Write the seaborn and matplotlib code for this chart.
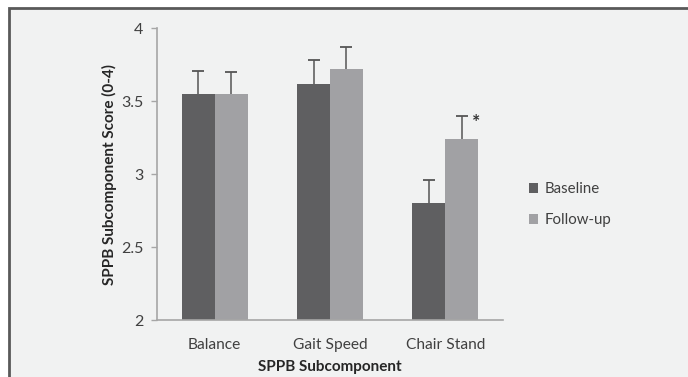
import matplotlib
matplotlib.use("Agg")
import matplotlib.pyplot as plt
from matplotlib.patches import Rectangle
import numpy as np
import pandas as pd
import seaborn as sns

# SPPB subcomponent scores, baseline vs follow-up
categories = ["Balance", "Gait Speed", "Chair Stand"]
groups = ["Baseline", "Follow-up"]
baseline = [3.55, 3.62, 2.80]
followup = [3.55, 3.72, 3.24]
baseline_err = [0.16, 0.16, 0.16]
followup_err = [0.15, 0.15, 0.16]
yticks = [2, 2.5, 3, 3.5, 4]
ytick_labels = ["2", "2.5", "3", "3.5", "4"]

df = pd.DataFrame({
    "Subcomponent": categories * 2,
    "Time": [groups[0]] * 3 + [groups[1]] * 3,
    "Score": baseline + followup,
    "Err": baseline_err + followup_err,
})

sns.set_theme(style="white")
plt.rcParams["font.family"] = ["Lato", "DejaVu Sans"]

BG = "#f1f2f2"
DARK = "#5f5f61"
LIGHT = "#a1a1a4"
TEXT = "#404040"
AXIS = "#a6a6a6"
ERR = "#555555"

fig = plt.figure(figsize=(6.88, 3.77), dpi=100)
fig.patch.set_facecolor("white")

# framed panel behind the chart
W, H = 688, 377
panel = Rectangle((8.5 / W, -0.1), 1.2, (H - 8.5) / H + 0.1,
                  transform=fig.transFigure, facecolor=BG,
                  edgecolor="#595959", linewidth=2, zorder=-10)
fig.patches.append(panel)

ax = fig.add_axes([157 / W, (H - 320) / H, (503 - 157) / W, (320 - 28.3) / H])
ax.set_facecolor("none")

sns.barplot(data=df, x="Subcomponent", y="Score", hue="Time",
            order=categories, hue_order=groups,
            palette=[DARK, LIGHT], errorbar=None, width=0.57,
            saturation=1, linewidth=0, ax=ax)

# upward-only error bars with a cap at the top
for container, errs in zip(ax.containers, [baseline_err, followup_err]):
    for bar, e in zip(container, errs):
        xc = bar.get_x() + bar.get_width() / 2
        h = bar.get_height()
        ax.errorbar(xc, h, yerr=[[0], [e]], fmt="none", ecolor=ERR,
                    elinewidth=1.1, capsize=0, zorder=3)
        ax.plot([xc], [h + e], marker="_", markersize=9, markeredgewidth=1.3,
                color=ERR, zorder=3)

# significance marker above Chair Stand follow-up
fu_bar = ax.containers[1][2]
ax.text(fu_bar.get_x() + fu_bar.get_width() - 0.02,
        followup[2] + followup_err[2] - 0.045, "*",
        fontsize=14, fontweight="bold", color="#333333",
        ha="center", va="center")

ax.set_ylim(2, 4)
ax.set_xlim(-0.5, 2.5)
ax.set_yticks(yticks)
ax.set_yticklabels(ytick_labels)
ax.tick_params(axis="y", which="both", left=True, length=4, width=1,
               color=AXIS, labelsize=11.5, labelcolor=TEXT, pad=6)
ax.tick_params(axis="x", bottom=False, labelsize=11.2, labelcolor=TEXT, pad=7)

for s in ["top", "right"]:
    ax.spines[s].set_visible(False)
for s in ["left", "bottom"]:
    ax.spines[s].set_color(AXIS)
    ax.spines[s].set_linewidth(1.2)

ax.set_xlabel("SPPB Subcomponent", fontsize=11, fontweight="bold",
              color="#262626", labelpad=6)
ax.set_ylabel("SPPB Subcomponent Score (0-4)", fontsize=11,
              fontweight="bold", color="#262626", labelpad=3)

leg = ax.legend(loc="center left", bbox_to_anchor=(1.035, 0.395),
                frameon=False, fontsize=10.8, handlelength=0.65,
                handleheight=0.65, handletextpad=0.45, labelspacing=1.15)
for t in leg.get_texts():
    t.set_color(TEXT)

fig.savefig("out.png", dpi=100, facecolor=fig.get_facecolor())
